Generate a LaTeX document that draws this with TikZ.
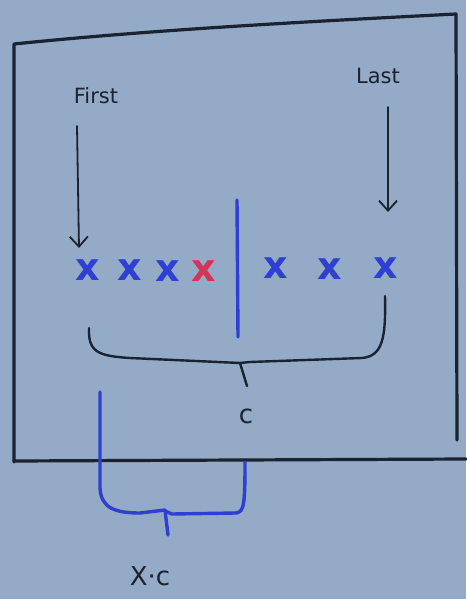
\documentclass[tikz,border=0pt]{standalone}
\usepackage{fontspec}
\setmainfont{DejaVu Sans}
\usetikzlibrary{arrows.meta}
\definecolor{paper}{HTML}{93ABC6}
\definecolor{ink}{HTML}{1B2230}
\definecolor{marker}{HTML}{2E3FD2}
\definecolor{redmark}{HTML}{D2345A}
\tikzset{
  pen/.style={draw=ink, line width=2.4pt, line cap=round, line join=round},
  bluepen/.style={draw=marker, line width=3.4pt, line cap=round, line join=round},
  cross/.style={text=marker, font=\bfseries\fontsize{38}{38}\selectfont, inner sep=0pt},
  handlabel/.style={text=ink, font=\fontsize{21}{21}\selectfont, inner sep=1pt},
  pointer/.style={pen, line width=1.8pt, -{Straight Barb[length=10pt,width=18pt,line width=1.8pt]}}
}
\begin{document}
\begin{tikzpicture}[x=1pt,y=-1pt]
  \fill[paper] (0,0) rectangle (466,599);
  \useasboundingbox (0,0) rectangle (466,599);

  % frame
  \draw[pen, line width=3.2pt] (14,462) -- (14,44) .. controls (150,30) and (300,22) .. (456,14) -- (457,440);
  \draw[pen, line width=3.2pt] (14,461) -- (466,459);

  % labels
  \node[handlabel] (first) at (96,96) {First};
  \node[handlabel] (last) at (378,76) {Last};

  % the list of elements
  \node[cross] (x1) at (88,270) {x};
  \node[cross] (x2) at (130,270) {x};
  \node[cross] (x3) at (168,271) {x};
  \node[cross, text=redmark] (x4) at (204,271) {x};
  \node[cross] (x5) at (276,268) {x};
  \node[cross] (x6) at (330,269) {x};
  \node[cross] (x7) at (386,268) {x};

  % pointers to the ends
  \coordinate (fs) at (77,126);
  \coordinate (ls) at (388,107);
  \draw[pointer] (fs) -- (79,248);
  \draw[pointer] (ls) -- (388,212);

  % split line
  \draw[bluepen] (237,200) -- (238,337);

  % brace over the whole list
  \node[handlabel, font=\fontsize{26}{26}\selectfont] (c) at (246,416) {c};
  \draw[pen] (89,328) .. controls (88,352) and (98,356) .. (130,358)
             -- (240,363) -- (247,386);
  \draw[pen] (240,363) -- (250,362) -- (362,358)
             .. controls (382,356) and (386,340) .. (385,296);

  % bracket below, in blue
  \node[handlabel, font=\fontsize{26}{26}\selectfont] (xc) at (150,576) {X·c};
  \draw[bluepen] (100,392) -- (100,488) .. controls (101,508) and (115,513) .. (140,513)
                 -- (165,510) -- (168,535);
  \draw[bluepen] (165,511) -- (172,514) -- (236,513)
                 .. controls (244,512) and (245,505) .. (245,462);
\end{tikzpicture}
\end{document}
